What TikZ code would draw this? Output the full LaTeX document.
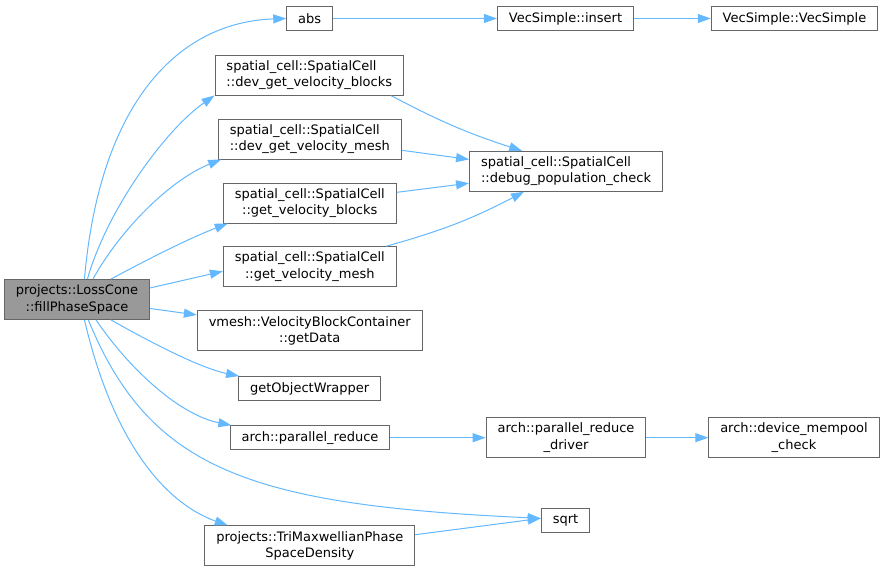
\documentclass[tikz,border=0pt]{standalone}
\usepackage{fontspec}
\setmainfont{DejaVu Sans}
\usetikzlibrary{arrows.meta}
\definecolor{edgeblue}{HTML}{63B8FF}
\definecolor{boxgray}{HTML}{666666}
\definecolor{curgray}{HTML}{999999}

\begin{document}
\begin{tikzpicture}[x=1pt,y=-1pt,
  func/.style={draw=boxgray,fill=white,line width=0.9pt,inner xsep=11.5pt,inner ysep=4pt,
    minimum height=24pt,align=center,font=\fontsize{13}{16.5}\selectfont},
  twoline/.style={func,minimum height=40pt},
  cur/.style={twoline,fill=curgray},
  call/.style={draw=edgeblue,line width=1pt,-{Triangle[length=13pt,width=9pt]}}]
\useasboundingbox (0,0) rectangle (885,571);
% caller
\node[cur] (fill) at (77,299.5) {projects::LossCone\\::fillPhaseSpace};
% first column of callees
\node[func] (abs) at (309.7,18.5) {abs};
\node[twoline,align=left] (devblocks) at (309.3,75.3) {spatial\_cell::SpatialCell\\::dev\_get\_velocity\_blocks};
\node[twoline,align=left] (devmesh) at (309.8,139) {spatial\_cell::SpatialCell\\::dev\_get\_velocity\_mesh};
\node[twoline] (getblocks) at (309.8,203) {spatial\_cell::SpatialCell\\::get\_velocity\_blocks};
\node[twoline] (getmesh) at (309.8,266.7) {spatial\_cell::SpatialCell\\::get\_velocity\_mesh};
\node[twoline] (getdata) at (309.7,330.8) {vmesh::VelocityBlockContainer\\::getData};
\node[func] (wrapper) at (309.7,388.5) {getObjectWrapper};
\node[func] (reduce) at (310,437.7) {arch::parallel\_reduce};
\node[twoline] (trimax) at (309.8,545.8) {projects::TriMaxwellianPhase\\SpaceDensity};
% second column
\node[func] (insert) at (565.5,18.5) {VecSimple::insert};
\node[twoline,align=left] (debug) at (566,171.3) {spatial\_cell::SpatialCell\\::debug\_population\_check};
\node[twoline] (driver) at (566,437.7) {arch::parallel\_reduce\\\_driver};
\node[func] (sqrt) at (565.5,520.5) {sqrt};
% third column
\node[func] (vecsimple) at (794.5,18.5) {VecSimple::VecSimple};
\node[twoline] (mempool) at (794,437.7) {arch::device\_mempool\\\_check};

% calls from the caller
\draw[call] (fill.70) .. controls (100,100) and (180,22) .. (abs.west);
\draw[call] (fill.63) .. controls (107,210) and (165,130) .. (devblocks.192);
\draw[call] (fill.52) .. controls (120,230) and (170,180) .. (devmesh.193);
\draw[call] (fill.31) .. controls (150,258) and (190,238) .. (getblocks.194);
\draw[call] (fill.9) -- (getmesh.183);
\draw[call] (fill.-7) -- (getdata.172);
\draw[call] (fill.-31) .. controls (150,342) and (200,368) .. (wrapper.170);
\draw[call] (fill.-47) .. controls (130,370) and (180,415) .. (reduce.171);
\draw[call] (fill.-61) .. controls (150,470) and (250,505) .. (sqrt.175);
\draw[call] (fill.-70) .. controls (115,450) and (170,505) .. (trimax.166);
% further calls
\draw[call] (abs) -- (insert);
\draw[call] (insert) -- (vecsimple);
\draw[call] (devblocks.-14) to[bend right=5] (debug.155);
\draw[call] (devmesh.-7) -- (debug.173);
\draw[call] (getblocks.7) -- (debug.187);
\draw[call] (getmesh.15) to[bend right=6] (debug.206);
\draw[call] (reduce) -- (driver);
\draw[call] (driver) -- (mempool);
\draw[call] (trimax.6) -- (sqrt.175);
\end{tikzpicture}
\end{document}
